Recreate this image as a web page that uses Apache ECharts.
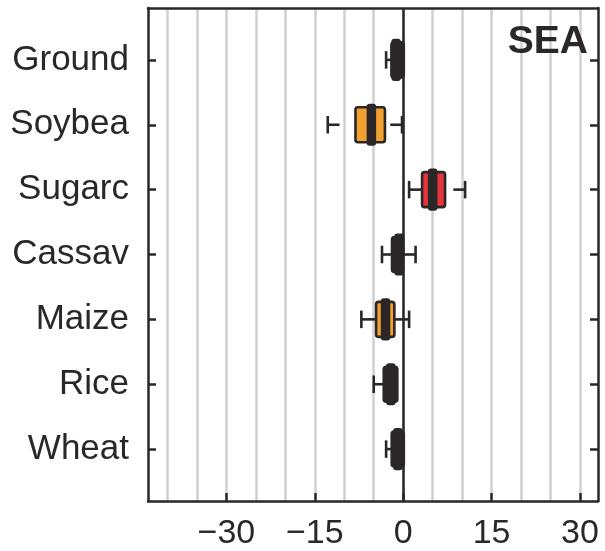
<!DOCTYPE html>
<html>
<head>
<meta charset="utf-8">
<script src="https://cdn.jsdelivr.net/npm/echarts@6/dist/echarts.min.js"></script>
<style>
html,body{margin:0;padding:0;background:#fff;}
#chart{width:605px;height:551px;}
</style>
</head>
<body>
<div id="chart"></div>
<script>
// ---- data ----
const categories   = ['Ground', 'Soybea', 'Sugarc', 'Cassav', 'Maize', 'Rice', 'Wheat'];
const lowCap       = [-2.9, -12.8, 1.0, -3.6, -7.1, -5.0, -2.9];
const lowLineEnd   = [-2.0, -10.8, 3.2, -1.9, -4.6, -3.3, -1.95];
const q1           = [-2.0, -8.1, 3.2, -1.9, -4.6, -3.3, -1.95];
const median       = [-1.2, -5.4, 5.0, -0.7, -3.0, -2.1, -0.9];
const q3           = [0.1, -3.1, 7.1, 0.0, -1.5, -1.0, 0.1];
const highLineStart= [null, -2.2, 8.5, 0.0, -1.5, null, null];
const highCap      = [null, -0.2, 10.5, 2.1, 1.0, null, null];
const effect       = ['ns', 'neg', 'pos', 'ns', 'neg', 'ns', 'ns'];
const xTickLabels  = [-30, -15, 0, 15, 30];
const xGridValues  = [-40, -35, -30, -25, -20, -15, -10, -5, 0, 5, 10, 15, 20, 25, 30];
const panelLabel   = 'SEA';

// ---- styles ----
const DARK = '#2b2728';
const effectColor = { ns: DARK, neg: '#f2a030', pos: '#e2363b' };
const FONT = "'Liberation Sans', Arial, Helvetica, sans-serif";
const catIdx = categories.map((c, i) => i);

const chart = echarts.init(document.getElementById('chart'), null, { renderer: 'canvas' });

const seriesData = categories.map((c, i) => [
  i, lowCap[i], lowLineEnd[i], q1[i], median[i], q3[i],
  highLineStart[i] == null ? NaN : highLineStart[i],
  highCap[i] == null ? NaN : highCap[i]
]);

function renderItem(params, api) {
  const i = api.value(0);
  const y = api.coord([0, i])[1];
  const unit = api.size([0, 1])[1];
  const X = v => api.coord([v, i])[0];
  const boxH = unit * 0.27, medH = unit * 0.325, capH = unit * 0.135;
  const lw = 2.6;
  const children = [];
  const lc = api.value(1), le = api.value(2), a = api.value(3), m = api.value(4), b = api.value(5), hs = api.value(6), hc = api.value(7);
  const line = (x1, y1, x2, y2) => ({ type: 'line', shape: { x1, y1, x2, y2 }, style: { stroke: DARK, lineWidth: lw } });
  if (!isNaN(lc)) {
    children.push(line(X(lc), y, X(le), y));
    children.push(line(X(lc), y - capH, X(lc), y + capH));
  }
  if (!isNaN(hc)) {
    children.push(line(X(hs), y, X(hc), y));
    children.push(line(X(hc), y - capH, X(hc), y + capH));
  }
  const x1 = X(a), x2 = X(b);
  children.push({
    type: 'rect',
    shape: { x: x1, y: y - boxH, width: x2 - x1, height: 2 * boxH, r: 2.5 },
    style: { fill: effectColor[effect[i]], stroke: DARK, lineWidth: lw }
  });
  const mw = 9.5;
  children.push({
    type: 'rect',
    shape: { x: X(m) - mw / 2, y: y - medH, width: mw, height: 2 * medH, r: 3 },
    style: { fill: DARK }
  });
  return { type: 'group', children };
}

const xMin = -43.3, xMax = 33.05, yMin = -0.8, yMax = 6.8;

chart.setOption({
  animation: false,
  backgroundColor: '#fff',
  title: {
    text: panelLabel, right: 17, top: 23, padding: 0,
    textStyle: { fontFamily: FONT, fontWeight: 'bold', fontSize: 39, color: DARK }
  },
  grid: { left: 148, right: 7, top: 8, bottom: 49, containLabel: false },
  xAxis: [
    {
      type: 'value', position: 'bottom', min: xMin, max: xMax,
      axisLine: { show: true, onZero: false, lineStyle: { color: DARK, width: 2.5 } },
      axisTick: { show: true, inside: true, length: 8, customValues: xTickLabels, lineStyle: { color: DARK, width: 2.5 } },
      axisLabel: {
        show: true, customValues: xTickLabels, margin: 16,
        fontFamily: FONT, fontSize: 34, color: DARK,
        formatter: v => (v < 0 ? '\u2212' + Math.abs(v) : String(v))
      },
      splitLine: { show: false }
    },
    {
      type: 'value', position: 'top', min: xMin, max: xMax,
      axisLine: { show: true, onZero: false, lineStyle: { color: DARK, width: 2.5 } },
      axisTick: { show: false, customValues: xGridValues },
      axisLabel: { show: false },
      splitLine: { show: true, lineStyle: { color: '#d0d0d0', width: 2.5 } }
    }
  ],
  yAxis: [
    {
      type: 'value', position: 'left', inverse: true, min: yMin, max: yMax,
      axisLine: { show: true, onZero: false, lineStyle: { color: DARK, width: 2.5 } },
      axisTick: { show: true, inside: true, length: 8, customValues: catIdx, lineStyle: { color: DARK, width: 2.5 } },
      axisLabel: {
        show: true, customValues: catIdx, margin: 19,
        fontFamily: FONT, fontSize: 35, color: DARK,
        formatter: v => categories[Math.round(v)] || ''
      },
      splitLine: { show: false }
    },
    {
      type: 'value', position: 'right', inverse: true, min: yMin, max: yMax,
      axisLine: { show: true, onZero: false, lineStyle: { color: DARK, width: 2.5 } },
      axisTick: { show: true, inside: true, length: 8, customValues: catIdx, lineStyle: { color: DARK, width: 2.5 } },
      axisLabel: { show: false },
      splitLine: { show: false }
    }
  ],
  series: [
    {
      type: 'line', xAxisIndex: 0, yAxisIndex: 0, data: [], z: 1, silent: true,
      markLine: {
        silent: true, symbol: 'none', label: { show: false },
        lineStyle: { color: DARK, width: 2.5, type: 'solid' },
        data: [{ xAxis: 0 }]
      }
    },
    {
      type: 'custom', xAxisIndex: 0, yAxisIndex: 0, z: 5,
      encode: { x: [1, 2, 3, 4, 5, 6, 7], y: 0 },
      renderItem: renderItem,
      data: seriesData
    }
  ]
});
</script>
</body>
</html>
